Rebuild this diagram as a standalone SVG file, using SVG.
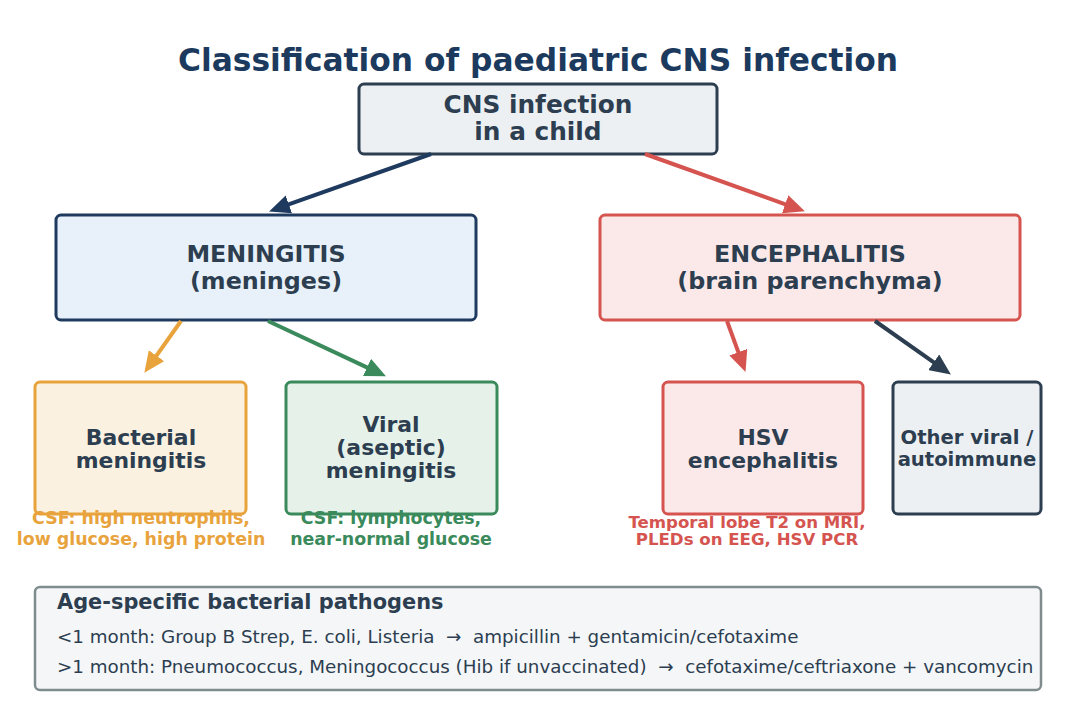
<svg xmlns="http://www.w3.org/2000/svg" width="1076" height="723" viewBox="0 0 1076 723">
<defs>
<style>
text{font-family:"DejaVu Sans","Liberation Sans",sans-serif;}
.t{font-weight:bold;fill:#2c3e50;text-anchor:middle;}
.box{stroke-width:3;}
.ann{font-weight:bold;text-anchor:middle;}
.c{fill:none;stroke-width:4;}
</style>
<marker id="hNavy" markerUnits="userSpaceOnUse" markerWidth="21" markerHeight="19" refX="4" refY="9.5" orient="auto" viewBox="0 0 21 19"><path d="M0,0 L21,9.5 L0,19 z" fill="#1f3a5f"/></marker>
<marker id="hRed" markerUnits="userSpaceOnUse" markerWidth="21" markerHeight="19" refX="4" refY="9.5" orient="auto" viewBox="0 0 21 19"><path d="M0,0 L21,9.5 L0,19 z" fill="#d5544f"/></marker>
<marker id="hOrange" markerUnits="userSpaceOnUse" markerWidth="21" markerHeight="19" refX="4" refY="9.5" orient="auto" viewBox="0 0 21 19"><path d="M0,0 L21,9.5 L0,19 z" fill="#e8a33d"/></marker>
<marker id="hGreen" markerUnits="userSpaceOnUse" markerWidth="21" markerHeight="19" refX="4" refY="9.5" orient="auto" viewBox="0 0 21 19"><path d="M0,0 L21,9.5 L0,19 z" fill="#3a8a5c"/></marker>
<marker id="hDark" markerUnits="userSpaceOnUse" markerWidth="21" markerHeight="19" refX="4" refY="9.5" orient="auto" viewBox="0 0 21 19"><path d="M0,0 L21,9.5 L0,19 z" fill="#2c3e50"/></marker>
</defs>
<rect width="1076" height="723" fill="#ffffff"/>
<text x="538" y="71" font-size="31.3" font-weight="bold" fill="#1c3a5e" text-anchor="middle">Classification of paediatric CNS infection</text>

<g id="root">
<rect class="box" x="359" y="84" width="358" height="70" rx="5" fill="#ecf0f3" stroke="#2c3e50"/>
<text class="t" x="538" y="113" font-size="24.8">CNS infection</text>
<text class="t" x="538" y="140" font-size="24.8">in a child</text>
</g>
<g id="meningitis">
<rect class="box" x="56" y="215" width="420" height="105" rx="5" fill="#e8f1f9" stroke="#1f3a5f"/>
<text class="t" x="266" y="262" font-size="23.8">MENINGITIS</text>
<text class="t" x="266" y="289" font-size="23.8">(meninges)</text>
</g>
<g id="encephalitis">
<rect class="box" x="600" y="215" width="420" height="105" rx="5" fill="#fbe9e9" stroke="#d5544f"/>
<text class="t" x="810" y="262" font-size="23.8">ENCEPHALITIS</text>
<text class="t" x="810" y="289" font-size="23.8">(brain parenchyma)</text>
</g>
<g id="bacterial">
<rect class="box" x="35" y="382" width="211" height="132" rx="5" fill="#fbf1e1" stroke="#e8a33d"/>
<text class="t" x="141" y="445" font-size="21.9">Bacterial</text>
<text class="t" x="141" y="468" font-size="21.9">meningitis</text>
<text class="ann" x="141" y="524" font-size="17.4" fill="#e8a33d">CSF: high neutrophils,</text>
<text class="ann" x="141" y="545" font-size="17.4" fill="#e8a33d">low glucose, high protein</text>
</g>
<g id="viral">
<rect class="box" x="286" y="382" width="211" height="132" rx="5" fill="#e6f2e9" stroke="#3a8a5c"/>
<text class="t" x="391" y="432" font-size="21.9">Viral</text>
<text class="t" x="391" y="455" font-size="21.9">(aseptic)</text>
<text class="t" x="391" y="478" font-size="21.9">meningitis</text>
<text class="ann" x="391" y="524" font-size="17.4" fill="#3a8a5c">CSF: lymphocytes,</text>
<text class="ann" x="391" y="545" font-size="17.4" fill="#3a8a5c">near-normal glucose</text>
</g>
<g id="hsv">
<rect class="box" x="663" y="382" width="200" height="132" rx="5" fill="#fbe9e9" stroke="#d5544f"/>
<text class="t" x="763" y="445" font-size="21.9">HSV</text>
<text class="t" x="763" y="468" font-size="21.9">encephalitis</text>
<text class="ann" x="747" y="528" font-size="16.6" fill="#d5544f">Temporal lobe T2 on MRI,</text>
<text class="ann" x="747" y="545" font-size="16.6" fill="#d5544f">PLEDs on EEG, HSV PCR</text>
</g>
<g id="other">
<rect class="box" x="893" y="382" width="148" height="132" rx="5" fill="#ecf0f3" stroke="#2c3e50"/>
<text class="t" x="967" y="444" font-size="19.6">Other viral /</text>
<text class="t" x="967" y="466" font-size="19.6">autoimmune</text>
</g>
<g id="pathogens">
<rect x="35" y="587" width="1006" height="103" rx="5" fill="#f4f6f8" stroke="#7f8c8d" stroke-width="2.5"/>
<text x="57" y="609" font-size="20.9" font-weight="bold" fill="#2c3e50">Age-specific bacterial pathogens</text>
<text x="57" y="643" font-size="18.3" fill="#2c3e50" xml:space="preserve">&lt;1 month: Group B Strep, E. coli, Listeria  →  ampicillin + gentamicin/cefotaxime</text>
<text x="57" y="673" font-size="18.3" fill="#2c3e50" xml:space="preserve">&gt;1 month: Pneumococcus, Meningococcus (Hib if unvaccinated)  →  cefotaxime/ceftriaxone + vancomycin</text>
</g>

<g id="connectors">
<line class="c" x1="431" y1="154" x2="285.1" y2="205.7" stroke="#1f3a5f" marker-end="url(#hNavy)"/>
<line class="c" x1="645" y1="154" x2="788.9" y2="205.6" stroke="#d5544f" marker-end="url(#hRed)"/>
<line class="c" x1="181" y1="321" x2="154.2" y2="358.9" stroke="#e8a33d" marker-end="url(#hOrange)"/>
<line class="c" x1="268" y1="321" x2="370.6" y2="369.1" stroke="#3a8a5c" marker-end="url(#hGreen)"/>
<line class="c" x1="727" y1="321" x2="739.7" y2="355.9" stroke="#d5544f" marker-end="url(#hRed)"/>
<line class="c" x1="875" y1="321" x2="937" y2="364.6" stroke="#2c3e50" marker-end="url(#hDark)"/>
</g>
</svg>
